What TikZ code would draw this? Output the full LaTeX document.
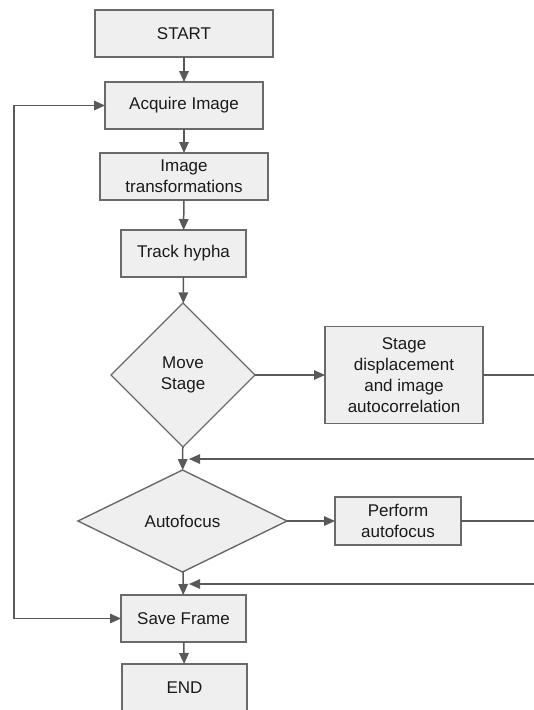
\documentclass[tikz,border=0pt]{standalone}
\usepackage{fontspec}
\setmainfont{Liberation Sans}
\usetikzlibrary{shapes.geometric,arrows.meta}
\definecolor{boxfill}{HTML}{EFEFEF}
\definecolor{boxline}{HTML}{6A6A6A}
\definecolor{conline}{HTML}{595959}
\definecolor{txt}{HTML}{1A1A1A}
\begin{document}
\begin{tikzpicture}[x=1pt,y=-1pt,
  every node/.style={font=\fontsize{17}{21}\selectfont, text=txt, align=center, inner sep=0pt, outer sep=0pt},
  procbox/.style={draw=boxline, fill=boxfill, line width=1.4pt, rectangle},
  decide/.style={draw=boxline, fill=boxfill, line width=1.4pt, diamond},
  conn/.style={draw=conline, line width=1.5pt, -{Triangle[length=11pt,width=9.5pt]}},
  plain/.style={draw=conline, line width=1.5pt}]
\useasboundingbox (0,0) rectangle (534,710);
\node[procbox, minimum width=178pt, minimum height=47pt] (start) at (184,33.5) {START};
\node[procbox, minimum width=158pt, minimum height=47pt] (acq) at (184,105.5) {Acquire Image};
\node[procbox, minimum width=168pt, minimum height=47pt] (trans) at (184,176.5) {Image\\transformations};
\node[procbox, minimum width=125pt, minimum height=47pt] (track) at (183.5,253.5) {Track hypha};
\node[decide, minimum width=144pt, minimum height=144pt] (move) at (183,375) {Move\\Stage};
\node[procbox, minimum width=158pt, minimum height=97pt] (disp) at (404,375) {Stage\\displacement\\and image\\autocorrelation};
\node[decide, minimum width=209pt, minimum height=102pt] (af) at (182.5,521) {Autofocus};
\node[procbox, minimum width=126pt, minimum height=48pt] (perf) at (398,521) {Perform\\autofocus};
\node[procbox, minimum width=125pt, minimum height=47pt] (save) at (183.5,618.5) {Save Frame};
\node[procbox, minimum width=125pt, minimum height=47pt] (end) at (184.5,687.5) {END};
\coordinate (r1) at (540,375);
\coordinate (r2) at (540,459);
\coordinate (j1) at (189,459);
\coordinate (r3) at (540,521);
\coordinate (r4) at (540,584);
\coordinate (j2) at (189,584);
\coordinate (l1) at (14,105.5);
\coordinate (l2) at (14,618.5);
\draw[conn] (start) -- (acq);
\draw[conn] (acq) -- (trans);
\draw[conn] (trans) -- (track);
\draw[conn] (track) -- (move);
\draw[conn] (move) -- (disp);
\draw[plain] (disp.east) -- (r1);
\draw[conn] (r2) -- (j1);
\draw[conn] (move) -- (af);
\draw[conn] (af) -- (perf);
\draw[plain] (perf.east) -- (r3);
\draw[conn] (r4) -- (j2);
\draw[conn] (af) -- (save);
\draw[conn] (save) -- (end);
\draw[conn] (l2) -- (l1) -- (acq.west);
\draw[conn] (l2) -- (save.west);
\end{tikzpicture}
\end{document}
